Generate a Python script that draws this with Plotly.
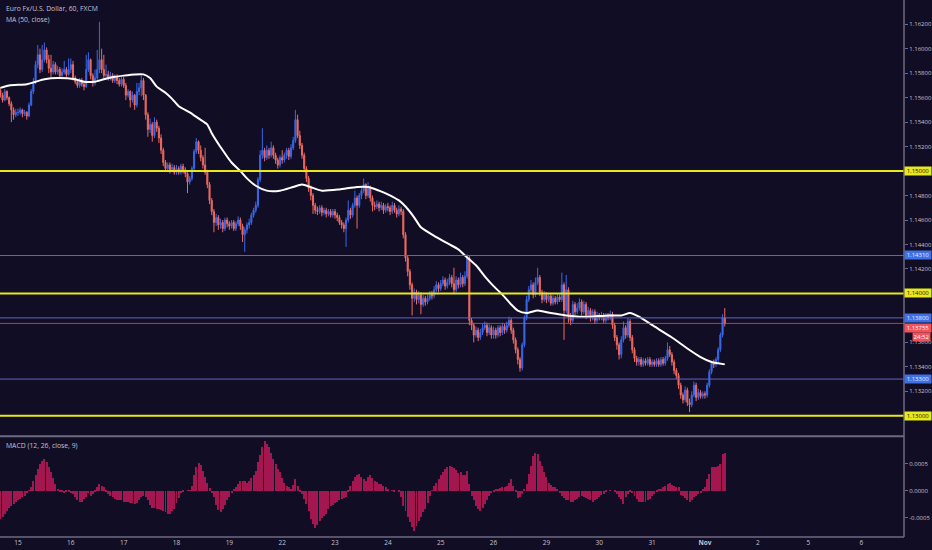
import plotly.graph_objects as go

# EUR/USD hourly candles, one list per trading day: (high, low, close)
first_open = 1.1566

oct14 = [
    (1.1568, 1.1560, 1.1562), (1.1564, 1.1556, 1.1558), (1.1567, 1.1557, 1.1565), (1.1566, 1.1558, 1.1560),
    (1.1561, 1.1553, 1.1555), (1.1557, 1.1540, 1.1550), (1.1552, 1.1542, 1.1546), (1.1551, 1.1544, 1.1548),
]
oct15 = [
    (1.1551, 1.1545, 1.1548), (1.1552, 1.1546, 1.1550), (1.1551, 1.1544, 1.1547), (1.1550, 1.1545, 1.1548),
    (1.1549, 1.1542, 1.1545), (1.1556, 1.1544, 1.1554), (1.1567, 1.1553, 1.1565), (1.1576, 1.1563, 1.1573),
    (1.1590, 1.1571, 1.1587), (1.1603, 1.1584, 1.1595), (1.1600, 1.1580, 1.1583), (1.1603, 1.1581, 1.1591),
    (1.1605, 1.1589, 1.1599), (1.1601, 1.1588, 1.1591), (1.1595, 1.1580, 1.1584), (1.1595, 1.1577, 1.1581),
    (1.1590, 1.1579, 1.1587), (1.1589, 1.1579, 1.1581), (1.1586, 1.1579, 1.1583), (1.1585, 1.1576, 1.1578),
    (1.1584, 1.1577, 1.1581), (1.1590, 1.1579, 1.1583), (1.1585, 1.1577, 1.1579), (1.1592, 1.1578, 1.1583),
]
oct16 = [
    (1.1592, 1.1580, 1.1587), (1.1590, 1.1574, 1.1576), (1.1578, 1.1571, 1.1573), (1.1575, 1.1568, 1.1570),
    (1.1576, 1.1568, 1.1574), (1.1576, 1.1569, 1.1571), (1.1573, 1.1566, 1.1569), (1.1595, 1.1568, 1.1583),
    (1.1597, 1.1581, 1.1591), (1.1592, 1.1575, 1.1578), (1.1580, 1.1569, 1.1573), (1.1583, 1.1570, 1.1576),
    (1.1599, 1.1574, 1.1583), (1.1622, 1.1580, 1.1591), (1.1600, 1.1580, 1.1583), (1.1595, 1.1576, 1.1578),
    (1.1587, 1.1576, 1.1579), (1.1582, 1.1574, 1.1576), (1.1581, 1.1574, 1.1578), (1.1580, 1.1572, 1.1574),
    (1.1579, 1.1572, 1.1577), (1.1579, 1.1571, 1.1574), (1.1576, 1.1569, 1.1571), (1.1577, 1.1569, 1.1575),
]
oct17 = [
    (1.1577, 1.1568, 1.1570), (1.1572, 1.1558, 1.1562), (1.1567, 1.1560, 1.1565), (1.1566, 1.1552, 1.1558),
    (1.1565, 1.1556, 1.1562), (1.1563, 1.1550, 1.1554), (1.1572, 1.1552, 1.1565), (1.1572, 1.1562, 1.1568),
    (1.1578, 1.1561, 1.1574), (1.1576, 1.1558, 1.1562), (1.1563, 1.1542, 1.1546), (1.1548, 1.1528, 1.1534),
    (1.1543, 1.1531, 1.1538), (1.1540, 1.1524, 1.1529), (1.1544, 1.1527, 1.1540), (1.1542, 1.1532, 1.1535),
    (1.1537, 1.1523, 1.1527), (1.1530, 1.1514, 1.1517), (1.1519, 1.1504, 1.1507), (1.1509, 1.1500, 1.1502),
    (1.1507, 1.1500, 1.1505), (1.1507, 1.1498, 1.1501), (1.1506, 1.1499, 1.1503), (1.1505, 1.1497, 1.1499),
]
oct18 = [
    (1.1505, 1.1497, 1.1502), (1.1504, 1.1497, 1.1499), (1.1506, 1.1497, 1.1504), (1.1506, 1.1498, 1.1501),
    (1.1503, 1.1495, 1.1498), (1.1499, 1.1482, 1.1491), (1.1496, 1.1489, 1.1494), (1.1504, 1.1492, 1.1502),
    (1.1518, 1.1500, 1.1516), (1.1527, 1.1514, 1.1524), (1.1525, 1.1514, 1.1517), (1.1521, 1.1508, 1.1511),
    (1.1513, 1.1502, 1.1505), (1.1519, 1.1497, 1.1499), (1.1501, 1.1486, 1.1489), (1.1491, 1.1473, 1.1476),
    (1.1478, 1.1464, 1.1467), (1.1469, 1.1450, 1.1458), (1.1465, 1.1455, 1.1462), (1.1464, 1.1452, 1.1456),
    (1.1461, 1.1453, 1.1458), (1.1460, 1.1450, 1.1453), (1.1462, 1.1451, 1.1460), (1.1462, 1.1454, 1.1457),
]
oct19 = [
    (1.1459, 1.1452, 1.1455), (1.1460, 1.1453, 1.1458), (1.1460, 1.1451, 1.1453), (1.1459, 1.1451, 1.1457),
    (1.1463, 1.1455, 1.1460), (1.1462, 1.1452, 1.1455), (1.1457, 1.1442, 1.1448), (1.1454, 1.1434, 1.1452),
    (1.1458, 1.1449, 1.1456), (1.1461, 1.1453, 1.1458), (1.1466, 1.1456, 1.1464), (1.1470, 1.1462, 1.1468),
    (1.1475, 1.1466, 1.1472), (1.1495, 1.1470, 1.1493), (1.1517, 1.1491, 1.1513), (1.1535, 1.1510, 1.1517),
    (1.1519, 1.1508, 1.1511), (1.1521, 1.1509, 1.1517), (1.1519, 1.1510, 1.1513), (1.1524, 1.1511, 1.1519),
    (1.1521, 1.1510, 1.1513), (1.1515, 1.1506, 1.1509), (1.1511, 1.1502, 1.1505), (1.1513, 1.1503, 1.1511),
]
oct22 = [
    (1.1517, 1.1506, 1.1509), (1.1515, 1.1507, 1.1513), (1.1519, 1.1510, 1.1517), (1.1519, 1.1509, 1.1512),
    (1.1522, 1.1510, 1.1519), (1.1528, 1.1517, 1.1525), (1.1550, 1.1523, 1.1542), (1.1546, 1.1527, 1.1529),
    (1.1533, 1.1518, 1.1521), (1.1523, 1.1510, 1.1513), (1.1515, 1.1499, 1.1502), (1.1504, 1.1491, 1.1494),
    (1.1496, 1.1483, 1.1486), (1.1488, 1.1476, 1.1480), (1.1482, 1.1465, 1.1472), (1.1474, 1.1465, 1.1468),
    (1.1471, 1.1464, 1.1467), (1.1472, 1.1465, 1.1470), (1.1472, 1.1463, 1.1466), (1.1470, 1.1464, 1.1468),
    (1.1470, 1.1462, 1.1465), (1.1469, 1.1463, 1.1467), (1.1469, 1.1462, 1.1464), (1.1469, 1.1462, 1.1467),
]
oct23 = [
    (1.1469, 1.1461, 1.1464), (1.1466, 1.1459, 1.1462), (1.1464, 1.1456, 1.1458), (1.1460, 1.1453, 1.1456),
    (1.1458, 1.1450, 1.1453), (1.1462, 1.1438, 1.1460), (1.1476, 1.1458, 1.1468), (1.1470, 1.1461, 1.1464),
    (1.1474, 1.1462, 1.1472), (1.1484, 1.1470, 1.1478), (1.1480, 1.1453, 1.1472), (1.1482, 1.1470, 1.1480),
    (1.1486, 1.1477, 1.1484), (1.1494, 1.1482, 1.1489), (1.1490, 1.1477, 1.1480), (1.1491, 1.1478, 1.1486),
    (1.1488, 1.1475, 1.1478), (1.1480, 1.1467, 1.1472), (1.1475, 1.1468, 1.1471), (1.1476, 1.1469, 1.1473),
    (1.1475, 1.1467, 1.1470), (1.1475, 1.1468, 1.1472), (1.1474, 1.1465, 1.1468), (1.1473, 1.1466, 1.1471),
]
oct24 = [
    (1.1474, 1.1467, 1.1470), (1.1472, 1.1464, 1.1467), (1.1475, 1.1465, 1.1472), (1.1474, 1.1466, 1.1468),
    (1.1470, 1.1462, 1.1465), (1.1472, 1.1463, 1.1469), (1.1471, 1.1464, 1.1467), (1.1469, 1.1445, 1.1448),
    (1.1450, 1.1426, 1.1429), (1.1431, 1.1414, 1.1418), (1.1420, 1.1403, 1.1407), (1.1409, 1.1382, 1.1396),
    (1.1404, 1.1393, 1.1401), (1.1403, 1.1391, 1.1395), (1.1402, 1.1392, 1.1399), (1.1401, 1.1383, 1.1391),
    (1.1399, 1.1389, 1.1396), (1.1398, 1.1390, 1.1393), (1.1399, 1.1391, 1.1396), (1.1402, 1.1394, 1.1399),
    (1.1402, 1.1395, 1.1398), (1.1406, 1.1396, 1.1403), (1.1410, 1.1401, 1.1407), (1.1409, 1.1401, 1.1404),
]
oct25 = [
    (1.1411, 1.1402, 1.1408), (1.1414, 1.1406, 1.1411), (1.1413, 1.1403, 1.1406), (1.1412, 1.1404, 1.1409),
    (1.1416, 1.1407, 1.1413), (1.1415, 1.1405, 1.1408), (1.1421, 1.1400, 1.1403), (1.1414, 1.1401, 1.1411),
    (1.1413, 1.1404, 1.1407), (1.1417, 1.1405, 1.1413), (1.1415, 1.1405, 1.1408), (1.1418, 1.1406, 1.1414),
    (1.1432, 1.1412, 1.1429), (1.1431, 1.1374, 1.1378), (1.1380, 1.1370, 1.1374), (1.1376, 1.1360, 1.1366),
    (1.1373, 1.1364, 1.1370), (1.1372, 1.1361, 1.1364), (1.1371, 1.1362, 1.1368), (1.1375, 1.1366, 1.1372),
    (1.1377, 1.1370, 1.1374), (1.1376, 1.1365, 1.1368), (1.1375, 1.1366, 1.1372), (1.1374, 1.1363, 1.1366),
]
oct26 = [
    (1.1373, 1.1363, 1.1370), (1.1372, 1.1363, 1.1366), (1.1374, 1.1364, 1.1372), (1.1374, 1.1365, 1.1368),
    (1.1376, 1.1366, 1.1373), (1.1375, 1.1367, 1.1370), (1.1377, 1.1368, 1.1374), (1.1381, 1.1372, 1.1378),
    (1.1380, 1.1367, 1.1370), (1.1372, 1.1359, 1.1362), (1.1364, 1.1351, 1.1354), (1.1356, 1.1342, 1.1346),
    (1.1348, 1.1336, 1.1339), (1.1360, 1.1337, 1.1358), (1.1382, 1.1356, 1.1380), (1.1398, 1.1378, 1.1395),
    (1.1406, 1.1393, 1.1403), (1.1411, 1.1400, 1.1407), (1.1409, 1.1396, 1.1399), (1.1413, 1.1397, 1.1409),
    (1.1421, 1.1407, 1.1413), (1.1415, 1.1398, 1.1401), (1.1403, 1.1392, 1.1395), (1.1402, 1.1393, 1.1399),
]
oct29 = [
    (1.1401, 1.1392, 1.1395), (1.1400, 1.1393, 1.1398), (1.1400, 1.1390, 1.1392), (1.1399, 1.1390, 1.1396),
    (1.1398, 1.1391, 1.1393), (1.1400, 1.1391, 1.1397), (1.1399, 1.1393, 1.1395), (1.1417, 1.1393, 1.1407),
    (1.1409, 1.1362, 1.1386), (1.1415, 1.1384, 1.1403), (1.1405, 1.1376, 1.1382), (1.1384, 1.1374, 1.1378),
    (1.1394, 1.1376, 1.1391), (1.1393, 1.1382, 1.1385), (1.1392, 1.1383, 1.1388), (1.1396, 1.1386, 1.1393),
    (1.1395, 1.1382, 1.1385), (1.1394, 1.1383, 1.1391), (1.1393, 1.1379, 1.1382), (1.1389, 1.1380, 1.1386),
    (1.1388, 1.1377, 1.1380), (1.1387, 1.1378, 1.1385), (1.1387, 1.1375, 1.1378), (1.1385, 1.1376, 1.1382),
]
oct30 = [
    (1.1384, 1.1378, 1.1380), (1.1385, 1.1378, 1.1382), (1.1384, 1.1376, 1.1378), (1.1384, 1.1376, 1.1382),
    (1.1384, 1.1378, 1.1380), (1.1386, 1.1378, 1.1383), (1.1385, 1.1371, 1.1374), (1.1376, 1.1361, 1.1364),
    (1.1366, 1.1354, 1.1358), (1.1360, 1.1346, 1.1350), (1.1365, 1.1347, 1.1362), (1.1377, 1.1360, 1.1372),
    (1.1374, 1.1363, 1.1366), (1.1380, 1.1364, 1.1377), (1.1379, 1.1361, 1.1364), (1.1366, 1.1351, 1.1354),
    (1.1356, 1.1344, 1.1347), (1.1349, 1.1341, 1.1344), (1.1348, 1.1341, 1.1346), (1.1348, 1.1340, 1.1342),
    (1.1347, 1.1340, 1.1345), (1.1347, 1.1341, 1.1343), (1.1348, 1.1341, 1.1346), (1.1348, 1.1340, 1.1342),
]
oct31 = [
    (1.1346, 1.1340, 1.1344), (1.1346, 1.1340, 1.1342), (1.1347, 1.1340, 1.1345), (1.1347, 1.1340, 1.1342),
    (1.1348, 1.1340, 1.1346), (1.1348, 1.1341, 1.1343), (1.1349, 1.1341, 1.1347), (1.1360, 1.1345, 1.1354),
    (1.1357, 1.1348, 1.1350), (1.1352, 1.1341, 1.1344), (1.1346, 1.1334, 1.1337), (1.1339, 1.1330, 1.1333),
    (1.1335, 1.1322, 1.1325), (1.1327, 1.1314, 1.1317), (1.1319, 1.1310, 1.1313), (1.1324, 1.1311, 1.1321),
    (1.1323, 1.1308, 1.1311), (1.1314, 1.1303, 1.1309), (1.1320, 1.1307, 1.1317), (1.1328, 1.1315, 1.1325),
    (1.1327, 1.1312, 1.1315), (1.1322, 1.1313, 1.1319), (1.1321, 1.1314, 1.1316), (1.1320, 1.1314, 1.1318),
]
nov01 = [
    (1.1320, 1.1314, 1.1317), (1.1327, 1.1315, 1.1325), (1.1338, 1.1323, 1.1336), (1.1345, 1.1334, 1.1343),
    (1.1346, 1.1339, 1.1342), (1.1348, 1.1340, 1.1346), (1.1356, 1.1344, 1.1354), (1.1368, 1.1352, 1.1366),
    (1.1383, 1.1364, 1.1380), (1.1388, 1.1373, 1.13755),
]

# MACD (12, 26, close, 9) histogram, one value per bar
macd_oct14 = [-0.00052, -0.00048, -0.00043, -0.00038, -0.00032, -0.00028, -0.00025, -0.00021]
macd_oct15 = [-0.00018, -0.00015, -0.00012, -0.00009, -0.00005, 0.00001, 0.00007, 0.00018,
              0.00028, 0.00040, 0.00049, 0.00054, 0.00058, 0.00052, 0.00044, 0.00034,
              0.00023, 0.00012, 0.00004, -0.00002, -0.00003, -0.00004, -0.00002, -0.00003]
macd_oct16 = [-0.00004, -0.00006, -0.00011, -0.00017, -0.00020, -0.00021, -0.00015, -0.00012,
              -0.00005, -0.00009, -0.00006, -0.00002, 0.00007, 0.00012, 0.00009, 0.00006,
              -0.00003, -0.00006, -0.00009, -0.00012, -0.00015, -0.00017, -0.00017, -0.00018]
macd_oct17 = [-0.00020, -0.00020, -0.00021, -0.00022, -0.00023, -0.00025, -0.00022, -0.00018,
              -0.00011, -0.00009, -0.00012, -0.00018, -0.00026, -0.00031, -0.00032, -0.00033,
              -0.00034, -0.00036, -0.00038, -0.00040, -0.00042, -0.00043, -0.00038, -0.00034]
macd_oct18 = [-0.00023, -0.00013, -0.00005, -0.00001, 0.0, 0.00001, 0.00001, 0.00009,
              0.00029, 0.00044, 0.00050, 0.00048, 0.00036, 0.00026, 0.00015, 0.00005,
              -0.00005, -0.00012, -0.00026, -0.00036, -0.00040, -0.00034, -0.00026, -0.00017]
macd_oct19 = [-0.00011, -0.00004, 0.00003, 0.00006, 0.00013, 0.00017, 0.00018, 0.00017,
              0.00015, 0.00018, 0.00023, 0.00029, 0.00037, 0.00052, 0.00066, 0.00080,
              0.00091, 0.00086, 0.00080, 0.00069, 0.00058, 0.00049, 0.00040, 0.00034]
macd_oct22 = [0.00023, 0.00015, 0.00009, 0.00006, 0.00004, 0.00011, 0.00021, 0.00009,
              -0.00003, -0.00006, -0.00015, -0.00025, -0.00037, -0.00052, -0.00061, -0.00069,
              -0.00063, -0.00055, -0.00050, -0.00046, -0.00042, -0.00034, -0.00028, -0.00026]
macd_oct23 = [-0.00022, -0.00020, -0.00018, -0.00016, -0.00013, -0.00012, -0.00003, 0.00009,
              0.00017, 0.00025, 0.00028, 0.00031, 0.00026, 0.00021, 0.00018, 0.00025,
              0.00028, 0.00023, 0.00018, 0.00016, 0.00013, 0.00012, 0.00009, 0.00006]
macd_oct24 = [0.00003, 0.0, 0.00001, -0.00001, 0.0, -0.00001, -0.00012, -0.00028,
              -0.00037, -0.00049, -0.00058, -0.00067, -0.00074, -0.00064, -0.00055, -0.00048,
              -0.00040, -0.00034, -0.00023, -0.00009, 0.00001, 0.00009, 0.00015, 0.00021]
macd_oct25 = [0.00028, 0.00034, 0.00040, 0.00043, 0.00046, 0.00044, 0.00042, 0.00038,
              0.00032, 0.00034, 0.00029, 0.00028, 0.00036, 0.00012, -0.00009, -0.00018,
              -0.00028, -0.00034, -0.00037, -0.00031, -0.00025, -0.00017, -0.00009, -0.00005]
macd_oct26 = [-0.00003, 0.00002, 0.00003, 0.00005, 0.00006, 0.00007, 0.00009, 0.00015,
              0.00021, 0.00009, -0.00003, -0.00013, -0.00012, -0.00006, 0.00003, 0.00012,
              0.00031, 0.00046, 0.00064, 0.00070, 0.00067, 0.00055, 0.00046, 0.00034]
macd_oct29 = [0.00025, 0.00015, 0.00011, 0.00007, 0.00006, 0.00002, -0.00005, -0.00009,
              -0.00013, -0.00017, -0.00018, -0.00020, -0.00021, -0.00018, -0.00015, -0.00012,
              -0.00009, -0.00011, -0.00013, -0.00015, -0.00018, -0.00021, -0.00018, -0.00015]
macd_oct30 = [-0.00011, -0.00007, -0.00006, -0.00001, 0.0, 0.00001, 0.0, -0.00003,
              -0.00006, -0.00011, -0.00015, -0.00025, -0.00012, -0.00006, -0.00002, -0.00005,
              -0.00009, -0.00015, -0.00021, -0.00021, -0.00021, -0.00020, -0.00017, -0.00015]
macd_oct31 = [-0.00009, -0.00006, -0.00003, 0.00002, 0.00003, 0.00006, 0.00009, 0.00012,
              0.00015, 0.00011, 0.00009, 0.00007, 0.00006, -0.00007, -0.00009, -0.00013,
              -0.00017, -0.00021, -0.00018, -0.00012, -0.00009, -0.00006, -0.00005, 0.00003]
macd_nov01 = [0.00006, 0.00021, 0.00031, 0.00043, 0.00043, 0.00043, 0.00046, 0.00049, 0.00067, 0.00070]

# MA (50, close): bar number -> value
ma_bars = [0, 4, 12, 16, 20, 26, 34, 38, 43, 47, 52, 56, 61, 65, 68, 71, 75, 78, 81, 86,
           90, 94, 96, 101, 105, 109, 112, 116, 121, 127, 133, 137, 146, 154, 162, 167, 172, 176, 181, 184,
           188, 191, 198, 204, 208, 211, 216, 220, 224, 228, 232, 235, 239, 244, 250, 257, 263, 268, 276, 282,
           286, 290, 297, 305, 312, 318, 323, 326, 329]
ma_values = [1.1568, 1.1570, 1.1571, 1.1573, 1.1575, 1.1576, 1.1575, 1.1573, 1.1573, 1.1575,
             1.1577, 1.1578, 1.1579, 1.1579, 1.1576, 1.1569, 1.1564, 1.1559, 1.1553, 1.1548,
             1.1543, 1.1538, 1.1531, 1.1517, 1.1507, 1.1500, 1.1494, 1.1488, 1.1484, 1.1484,
             1.1487, 1.1489, 1.1484, 1.1485, 1.1487, 1.1487, 1.1484, 1.1481, 1.1476, 1.1471,
             1.1462, 1.1454, 1.1446, 1.1440, 1.1436, 1.1431, 1.1423, 1.1414, 1.1406, 1.1399,
             1.1391, 1.1386, 1.1384, 1.1386, 1.1384, 1.1382, 1.1381, 1.1381, 1.1382, 1.1382,
             1.1384, 1.1381, 1.1373, 1.1364, 1.1355, 1.1348, 1.1344, 1.1343, 1.1342]

# x axis day labels (bar number of each day start)
day_ticks = [8, 32, 56, 80, 104, 128, 152, 176, 200, 224, 248, 272, 296, 320, 344, 367, 391]
day_labels = ["15", "16", "17", "18", "19", "22", "23", "24", "25", "26", "29", "30", "31",
              "<b>Nov</b>", "2", "5", "6"]

price_ticks = [1.162, 1.160, 1.158, 1.156, 1.154, 1.152, 1.150, 1.148, 1.146, 1.144,
               1.142, 1.140, 1.138, 1.136, 1.134, 1.132, 1.130]
macd_ticks = [0.0005, 0.0, -0.0005]
macd_tick_labels = ["0.0005", "0.0000", "-0.0005"]

yellow_levels = [1.1500, 1.1400, 1.1300]
blue_levels = [1.1431, 1.1380, 1.1330]
last_price = 1.13755
countdown = "24:52"

BG = "#110d25"
UP = "#3868ea"
DOWN = "#ee6a5e"
YELLOW = "#e8e81c"
BLUE_LINE = "#6064c4"
BLUE_TAG = "#3f71e6"
RED_TAG = "#f2525c"
AXIS = "#6c6a80"
TEXT = "#c4c2d2"
FONT = "Open Sans"

days = [oct14, oct15, oct16, oct17, oct18, oct19, oct22, oct23, oct24, oct25, oct26,
        oct29, oct30, oct31, nov01]
candles = [bar for day in days for bar in day]
highs = [c[0] for c in candles]
lows = [c[1] for c in candles]
closes = [c[2] for c in candles]
opens = [first_open] + closes[:-1]
bars = list(range(len(candles)))

macd = (macd_oct14 + macd_oct15 + macd_oct16 + macd_oct17 + macd_oct18 + macd_oct19 + macd_oct22
        + macd_oct23 + macd_oct24 + macd_oct25 + macd_oct26 + macd_oct29 + macd_oct30 + macd_oct31
        + macd_nov01)

# tick labels sitting under a level tag are left blank (the tag shows the price)
tagged = [round(v, 4) for v in yellow_levels + blue_levels]
price_tick_text = ["" if round(v, 4) in tagged else f"{v:.5f}" for v in price_ticks]

fig = go.Figure()

fig.add_trace(go.Candlestick(
    x=bars, open=opens, high=highs, low=lows, close=closes,
    increasing=dict(line=dict(color=UP, width=1), fillcolor=UP),
    decreasing=dict(line=dict(color=DOWN, width=1), fillcolor=DOWN),
    whiskerwidth=0, xaxis="x", yaxis="y", showlegend=False, hoverinfo="skip",
))

fig.add_trace(go.Scatter(
    x=ma_bars, y=ma_values, mode="lines",
    line=dict(color="white", width=2, shape="spline", smoothing=0.6),
    xaxis="x", yaxis="y", showlegend=False, hoverinfo="skip",
))

fig.add_trace(go.Bar(
    x=bars, y=macd, width=0.45,
    marker=dict(color="#a3164f", line=dict(width=0)),
    xaxis="x2", yaxis="y2", showlegend=False, hoverinfo="skip",
))

shapes = []
for lvl in yellow_levels:
    shapes.append(dict(type="line", xref="paper", yref="y", x0=0, x1=1, y0=lvl, y1=lvl,
                       line=dict(color=YELLOW, width=2)))
for lvl in blue_levels:
    shapes.append(dict(type="line", xref="paper", yref="y", x0=0, x1=1, y0=lvl, y1=lvl,
                       line=dict(color=BLUE_LINE, width=1)))
shapes.append(dict(type="line", xref="paper", yref="y", x0=0, x1=1, y0=last_price, y1=last_price,
                   line=dict(color="rgba(215,80,100,0.8)", width=1)))
# pane frame: separator, bottom axis line, price scale border
shapes.append(dict(type="line", xref="paper", yref="paper", x0=0, x1=1, y0=0.1875, y1=0.1875,
                   line=dict(color=AXIS, width=2)))
shapes.append(dict(type="line", xref="paper", yref="paper", x0=0, x1=1, y0=0, y1=0,
                   line=dict(color=AXIS, width=1.5)))
shapes.append(dict(type="line", xref="paper", yref="paper", x0=1, x1=1, y0=0, y1=1,
                   line=dict(color=AXIS, width=1.5)))

annotations = [
    dict(text="Euro Fx/U.S. Dollar, 60, FXCM", xref="paper", yref="paper", x=0.004, y=0.984,
         xanchor="left", yanchor="middle", showarrow=False, font=dict(family=FONT, size=6.8, color=TEXT)),
    dict(text="MA (50, close)", xref="paper", yref="paper", x=0.004, y=0.9646,
         xanchor="left", yanchor="middle", showarrow=False, font=dict(family=FONT, size=6.8, color=TEXT)),
    dict(text="MACD (12, 26, close, 9)", xref="paper", yref="paper", x=0.004, y=0.1713,
         xanchor="left", yanchor="middle", showarrow=False, font=dict(family=FONT, size=6.8, color=TEXT)),
]


def price_tag(value, label, bg, fg, yshift=0, xshift=0, width=25):
    return dict(text=label, xref="paper", yref="y", x=1, y=value, xanchor="left", yanchor="middle",
                xshift=xshift, yshift=yshift, showarrow=False, bgcolor=bg, width=width, height=7,
                borderpad=0.5, font=dict(family=FONT, size=6, color=fg))


for lvl in yellow_levels:
    annotations.append(price_tag(lvl, f"{lvl:.5f}", YELLOW, "#111111"))
for lvl in blue_levels:
    annotations.append(price_tag(lvl, f"{lvl:.5f}", BLUE_TAG, "#e8ecff"))
annotations.append(price_tag(last_price, f"{last_price:.5f}", RED_TAG, "#ffffff", yshift=-5))
annotations.append(price_tag(last_price, countdown, RED_TAG, "#ffffff", yshift=-14, xshift=8, width=16))

x_range = [-0.16, 410.4]

fig.update_layout(
    width=932, height=550,
    margin=dict(l=0, r=26, t=0, b=13),
    paper_bgcolor=BG, plot_bgcolor=BG,
    bargap=0, showlegend=False,
    font=dict(family=FONT, color=TEXT),
    shapes=shapes, annotations=annotations,
    xaxis=dict(domain=[0, 1], range=x_range, anchor="y", showticklabels=False, showgrid=False,
               zeroline=False, showline=False, ticks="", rangeslider=dict(visible=False)),
    xaxis2=dict(domain=[0, 1], range=x_range, anchor="y2", matches="x", showgrid=False, zeroline=False,
                showline=False, ticks="", tickvals=day_ticks, ticktext=day_labels,
                tickfont=dict(family=FONT, size=6.5, color=TEXT)),
    yaxis=dict(domain=[0.1886, 1], range=[1.12837, 1.16398], anchor="x", side="right",
               tickvals=price_ticks, ticktext=price_tick_text,
               ticks="outside", ticklen=3, tickcolor=AXIS, showgrid=False, zeroline=False,
               showline=False, tickfont=dict(family=FONT, size=6, color=TEXT)),
    yaxis2=dict(domain=[0, 0.1862], range=[-0.000851, 0.000987], anchor="x2", side="right",
                tickvals=macd_ticks, ticktext=macd_tick_labels,
                ticks="outside", ticklen=3, tickcolor=AXIS, showgrid=False, zeroline=False,
                showline=False, tickfont=dict(family=FONT, size=6, color=TEXT)),
)

# the page opens at 932x550, so drop the default body margin and the mode bar
fig.write_html("out.html", config={"displayModeBar": False},
               post_script="document.body.style.margin='0px';")
